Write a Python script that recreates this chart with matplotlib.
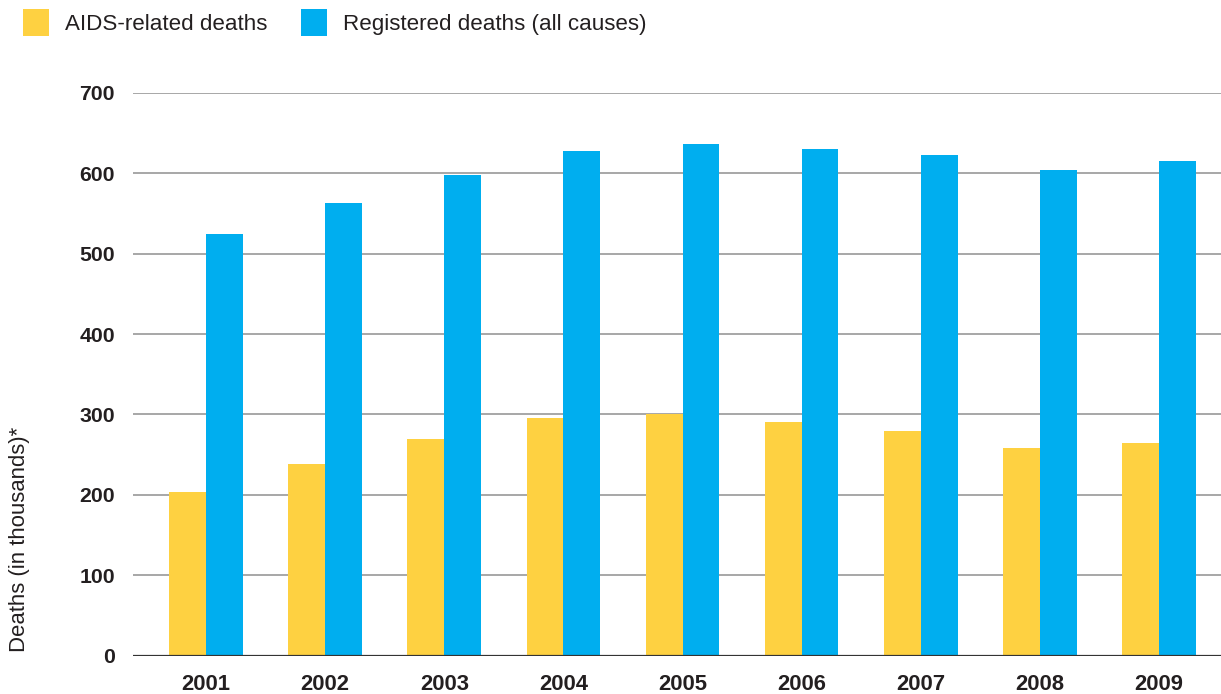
import matplotlib
matplotlib.use("Agg")
import matplotlib.pyplot as plt
import numpy as np

years = ["2001", "2002", "2003", "2004", "2005", "2006", "2007", "2008", "2009"]
aids_deaths = [203, 238, 269, 296, 300, 290, 280, 258, 265]
registered_deaths = [524, 563, 598, 628, 636, 630, 623, 604, 615]
yticks = [0, 100, 200, 300, 400, 500, 600, 700]

YELLOW = "#FED141"
BLUE = "#00AEEF"
TEXT = "#231f20"

plt.rcParams['font.family'] = ['Liberation Sans', 'DejaVu Sans']

W, H = 1221, 694
fig = plt.figure(figsize=(W / 100, H / 100), dpi=100)
ax = fig.add_axes([133 / W, 1 - 655.5 / H, 1 - 133 / W, (655.5 - 93) / H])

x = np.arange(len(years))
w = 0.309
b1 = ax.bar(x - w / 2, aids_deaths, width=w, color=YELLOW, label="AIDS-related deaths", zorder=2)
b2 = ax.bar(x + w / 2, registered_deaths, width=w, color=BLUE, label="Registered deaths (all causes)", zorder=2)

ax.set_xlim(-0.613, 8.52)
ax.set_ylim(0, 700)
ax.set_yticks(yticks)
ax.set_yticklabels([str(v) for v in yticks], fontsize=15.3, fontweight='bold', color=TEXT)
ax.set_xticks(x)
ax.set_xticklabels(years, fontsize=15.8, fontweight='bold', color=TEXT)
ax.tick_params(axis='both', length=0)
ax.tick_params(axis='y', pad=13)
ax.tick_params(axis='x', pad=13)

for v in yticks[1:]:
    ax.axhline(v, color='#a0a0a0', lw=1.3, zorder=1)
ax.axhline(0, color='#333333', lw=1.6, zorder=3)

for s in ax.spines.values():
    s.set_visible(False)

fig.text(20 / W, 1 - 652 / H, "Deaths (in thousands)*", rotation=90, ha='center', va='bottom',
         fontsize=15.9, color=TEXT)

leg = fig.legend(handles=[b1, b2], loc='upper left', bbox_to_anchor=(23 / W, 1 - 9 / H), ncol=2,
                 frameon=False, fontsize=16.1, handlelength=1.17, handleheight=1.45,
                 handletextpad=0.72, columnspacing=1.5, borderpad=0, borderaxespad=0,
                 labelcolor=TEXT)

fig.savefig("out.png", dpi=100)
